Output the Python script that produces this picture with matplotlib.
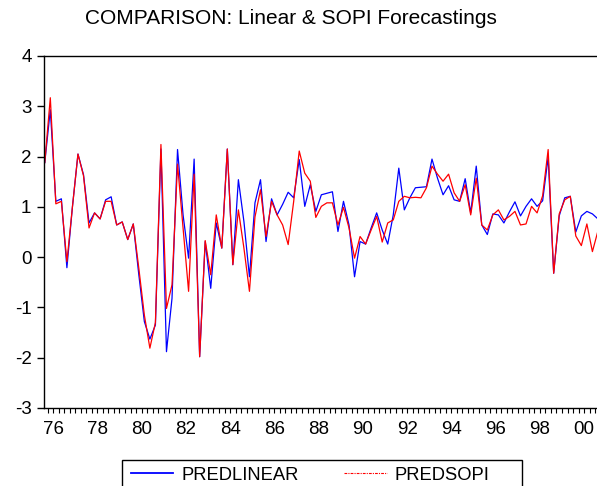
import numpy as np
import pandas as pd
import matplotlib
matplotlib.use('Agg')
import matplotlib.pyplot as plt
from matplotlib.lines import Line2D
from matplotlib.patches import Rectangle

plt.rcParams['font.family'] = ['Liberation Sans', 'DejaVu Sans']
plt.rcParams['axes.unicode_minus'] = False

# quarterly sample 1975Q3 - 2000Q3
quarters = pd.period_range('1975Q3', '2000Q3', freq='Q')

pred_linear = [
    1.88, 2.93, 1.11, 1.16, -0.21, 1.00, 2.05, 1.64, 0.68, 0.88,
    0.76, 1.14, 1.20, 0.64, 0.70, 0.35, 0.66, -0.35, -1.28, -1.63,
    -1.35, 2.15, -1.88, -0.82, 2.14, 0.84, -0.02, 1.95, -1.98, 0.31,
    -0.62, 0.68, 0.18, 2.15, -0.15, 1.54, 0.71, -0.39, 1.08, 1.54,
    0.31, 1.16, 0.84, 1.05, 1.29, 1.18, 1.94, 1.01, 1.44, 0.91,
    1.24, 1.27, 1.30, 0.51, 1.11, 0.64, -0.39, 0.31, 0.26, 0.58,
    0.88, 0.54, 0.26, 0.84, 1.77, 0.94, 1.18, 1.38, 1.39, 1.40,
    1.95, 1.57, 1.24, 1.42, 1.14, 1.11, 1.56, 0.88, 1.81, 0.64,
    0.45, 0.86, 0.84, 0.68, 0.90, 1.10, 0.82, 1.01, 1.16, 1.01,
    1.12, 1.99, -0.32, 0.82, 1.18, 1.21, 0.50, 0.82, 0.91, 0.86,
    0.76,
]
pred_sopi = [
    1.88, 3.17, 1.06, 1.11, -0.09, 1.00, 2.05, 1.62, 0.58, 0.88,
    0.76, 1.11, 1.11, 0.64, 0.70, 0.35, 0.66, -0.22, -1.15, -1.81,
    -1.30, 2.24, -1.02, -0.55, 1.85, 0.58, -0.68, 1.65, -1.98, 0.33,
    -0.35, 0.84, 0.18, 2.15, -0.15, 0.94, 0.18, -0.68, 0.80, 1.34,
    0.41, 1.11, 0.84, 0.64, 0.25, 1.11, 2.11, 1.67, 1.51, 0.79,
    1.01, 1.08, 1.08, 0.64, 0.99, 0.58, -0.02, 0.41, 0.26, 0.54,
    0.81, 0.30, 0.68, 0.74, 1.11, 1.21, 1.18, 1.19, 1.18, 1.38,
    1.81, 1.65, 1.51, 1.65, 1.28, 1.11, 1.44, 0.84, 1.57, 0.64,
    0.54, 0.84, 0.94, 0.74, 0.81, 0.91, 0.64, 0.66, 1.01, 0.88,
    1.22, 2.14, -0.32, 0.86, 1.14, 1.21, 0.42, 0.23, 0.66, 0.11,
    0.52,
]

year_ticks = list(range(1976, 2001, 2))
year_labels = ['%02d' % (y % 100) for y in year_ticks]

# observations sit in the middle of their quarter
t = quarters.year + (quarters.quarter - 1) / 4 + 0.125

fig = plt.figure(figsize=(5.97, 4.86), dpi=100)
ax = fig.add_axes([44 / 597, 1 - 408 / 486, 556.7 / 597, 352 / 486])

ax.plot(t, pred_linear, color='blue', lw=0.9)
ax.plot(t, pred_sopi, color='red', lw=0.9)

ax.set_xlim(1975.59, 2000.70)
ax.set_ylim(-3, 4)
ax.set_yticks(range(-3, 5))
ax.set_xticks(year_ticks)
ax.set_xticklabels(year_labels)
ax.set_xticks(np.arange(1975.75, 2000.76, 0.25), minor=True)

ax.tick_params(axis='x', which='both', direction='out', length=3.5, width=0.8,
               labelsize=13.5, pad=6)
ax.tick_params(axis='y', direction='out', length=5, width=1.0,
               labelsize=13.5, pad=4)

for s in ['left', 'bottom', 'top']:
    ax.spines[s].set_color('black')
    ax.spines[s].set_linewidth(1.0)
ax.spines['right'].set_visible(False)

fig.text(291 / 597, 1 - 18 / 486, 'COMPARISON: Linear & SOPI Forecastings',
         ha='center', va='center', fontsize=15)

# legend under the plot
handles = [Line2D([], [], color='blue', lw=1.3),
           Line2D([], [], color='red', lw=0.8, linestyle=(0, (2.5, 1, 1, 1)))]
fig.legend(handles, ['PREDLINEAR', 'PREDSOPI'], loc='center left',
           bbox_to_anchor=(123.7 / 597, 1 - 475 / 486), borderaxespad=0,
           ncol=2, frameon=False, fontsize=13.2, handlelength=2.3,
           handletextpad=0.44, columnspacing=2.5)
fig.patches.append(Rectangle((122 / 597, 1 - 495 / 486), 400 / 597, 35 / 486,
                             transform=fig.transFigure, fill=False,
                             ec='black', lw=1.0))

fig.savefig('out.png', dpi=100)
